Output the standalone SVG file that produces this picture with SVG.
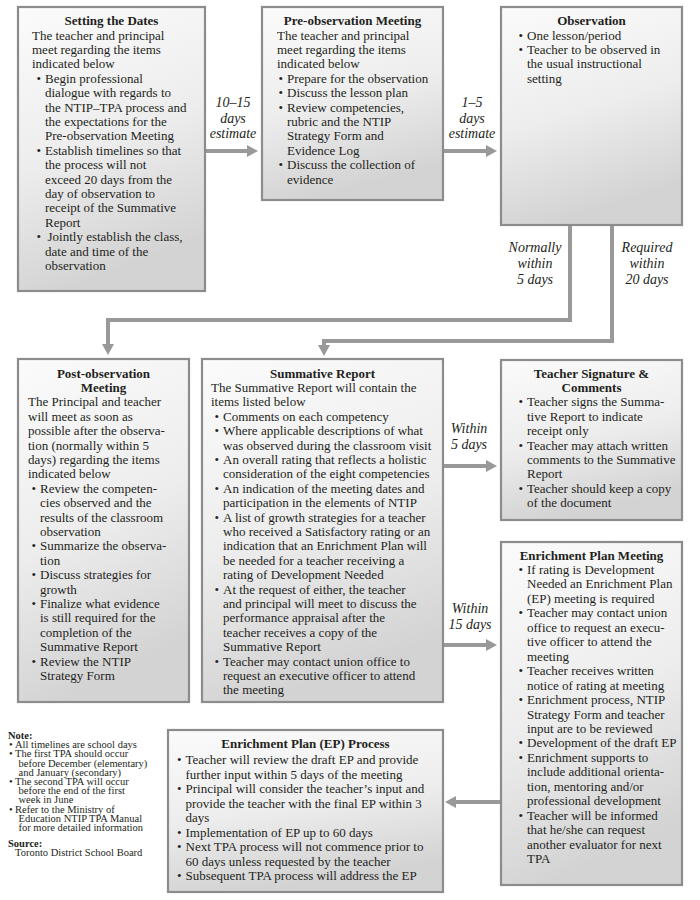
<svg xmlns="http://www.w3.org/2000/svg" width="700" height="900" viewBox="0 0 700 900">
<defs>
<linearGradient id="bg" x1="0" y1="0" x2="0.25" y2="1">
<stop offset="0" stop-color="#fbfbfb"/>
<stop offset="0.55" stop-color="#ededed"/>
<stop offset="1" stop-color="#d3d3d3"/>
</linearGradient>
<marker id="ah" viewBox="0 0 11 12" refX="0" refY="6" markerWidth="11" markerHeight="12" markerUnits="userSpaceOnUse" orient="auto">
<path d="M0,0 L11,6 L0,12 z" fill="#999"/>
</marker>
<style>
.box{fill:url(#bg);stroke:#8c8c8c;stroke-width:2.2}
.t{font-family:"Liberation Serif","Times New Roman",serif;font-size:13px;fill:#231f20}
.h{font-weight:bold;text-anchor:middle}
.i{font-family:"Liberation Serif","Times New Roman",serif;font-size:14px;font-style:italic;fill:#231f20;text-anchor:middle}
.n{font-family:"Liberation Serif","Times New Roman",serif;font-size:10.5px;fill:#231f20}
.c{fill:none;stroke:#999;stroke-width:4;stroke-linejoin:miter}
</style>
</defs>

<g id="connectors">
<path class="c" d="M205,151 H247" marker-end="url(#ah)"/>
<path class="c" d="M443,151 H486" marker-end="url(#ah)"/>
<path class="c" d="M570,225 V320 H108 V344" marker-end="url(#ah)"/>
<path class="c" d="M612,225 V341 H324 V345" marker-end="url(#ah)"/>
<path class="c" d="M443,466 H486" marker-end="url(#ah)"/>
<path class="c" d="M443,645 H486" marker-end="url(#ah)"/>
<path class="c" d="M501,802 H456" marker-end="url(#ah)"/>
<text class="i" x="233"><tspan x="233" y="106.5">10–15</tspan><tspan x="233" y="122.5">days</tspan><tspan x="233" y="138">estimate</tspan></text>
<text class="i" x="472"><tspan x="472" y="106.5">1–5</tspan><tspan x="472" y="122.5">days</tspan><tspan x="472" y="138">estimate</tspan></text>
<text class="i" x="535"><tspan x="535" y="252">Normally</tspan><tspan x="535" y="268">within</tspan><tspan x="535" y="284">5 days</tspan></text>
<text class="i" x="647"><tspan x="647" y="252">Required</tspan><tspan x="647" y="268">within</tspan><tspan x="647" y="284">20 days</tspan></text>
<text class="i" x="469"><tspan x="469" y="433">Within</tspan><tspan x="469" y="449">5 days</tspan></text>
<text class="i" x="470"><tspan x="470" y="613">Within</tspan><tspan x="470" y="629">15 days</tspan></text>
</g>

<g id="setting-dates">
<rect class="box" x="18" y="7" width="187" height="284"/>
<text class="t h" x="111.5" y="25">Setting the Dates</text>
<text class="t">
<tspan x="32" y="39.5">The teacher and principal</tspan>
<tspan x="32" y="53.9">meet regarding the items</tspan>
<tspan x="32" y="68.3">indicated below</tspan>
<tspan x="36.5" y="82.7">•</tspan><tspan x="45" y="82.7">Begin professional</tspan>
<tspan x="45" y="97.1">dialogue with regards to</tspan>
<tspan x="45" y="111.5">the NTIP–TPA process and</tspan>
<tspan x="45" y="125.9">the expectations for the</tspan>
<tspan x="45" y="140.3">Pre-observation Meeting</tspan>
<tspan x="36.5" y="154.7">•</tspan><tspan x="45" y="154.7">Establish timelines so that</tspan>
<tspan x="45" y="169.1">the process will not</tspan>
<tspan x="45" y="183.5">exceed 20 days from the</tspan>
<tspan x="45" y="197.9">day of observation to</tspan>
<tspan x="45" y="212.3">receipt of the Summative</tspan>
<tspan x="45" y="226.7">Report</tspan>
<tspan x="36.5" y="241.1">•</tspan><tspan x="47.5" y="241.1">Jointly establish the class,</tspan>
<tspan x="45" y="255.5">date and time of the</tspan>
<tspan x="45" y="269.9">observation</tspan>
</text>
</g>

<g id="pre-observation">
<rect class="box" x="262" y="7" width="181" height="193"/>
<text class="t h" x="352.5" y="25">Pre-observation Meeting</text>
<text class="t">
<tspan x="277" y="39.5">The teacher and principal</tspan>
<tspan x="277" y="53.9">meet regarding the items</tspan>
<tspan x="277" y="68.3">indicated below</tspan>
<tspan x="278.5" y="82.7">•</tspan><tspan x="287" y="82.7">Prepare for the observation</tspan>
<tspan x="278.5" y="97.1">•</tspan><tspan x="287" y="97.1">Discuss the lesson plan</tspan>
<tspan x="278.5" y="111.5">•</tspan><tspan x="287" y="111.5">Review competencies,</tspan>
<tspan x="287" y="125.9">rubric and the NTIP</tspan>
<tspan x="287" y="140.3">Strategy Form and</tspan>
<tspan x="287" y="154.7">Evidence Log</tspan>
<tspan x="278.5" y="169.1">•</tspan><tspan x="287" y="169.1">Discuss the collection of</tspan>
<tspan x="287" y="183.5">evidence</tspan>
</text>
</g>

<g id="observation">
<rect class="box" x="501" y="7" width="181" height="218"/>
<text class="t h" x="591.5" y="25">Observation</text>
<text class="t">
<tspan x="518.5" y="39.5">•</tspan><tspan x="527" y="39.5">One lesson/period</tspan>
<tspan x="518.5" y="53.9">•</tspan><tspan x="527" y="53.9">Teacher to be observed in</tspan>
<tspan x="527" y="68.3">the usual instructional</tspan>
<tspan x="527" y="82.7">setting</tspan>
</text>
</g>

<g id="post-observation">
<rect class="box" x="18" y="359" width="171" height="343"/>
<text class="t h"><tspan x="103.5" y="377.5">Post-observation</tspan><tspan x="103.5" y="391.9">Meeting</tspan></text>
<text class="t">
<tspan x="28" y="406.3">The Principal and teacher</tspan>
<tspan x="28" y="420.7">will meet as soon as</tspan>
<tspan x="28" y="435.1">possible after the observa-</tspan>
<tspan x="28" y="449.5">tion (normally within 5</tspan>
<tspan x="28" y="463.9">days) regarding the items</tspan>
<tspan x="28" y="478.3">indicated below</tspan>
<tspan x="31.5" y="492.7">•</tspan><tspan x="40" y="492.7">Review the competen-</tspan>
<tspan x="40" y="507.1">cies observed and the</tspan>
<tspan x="40" y="521.5">results of the classroom</tspan>
<tspan x="40" y="535.9">observation</tspan>
<tspan x="31.5" y="550.3">•</tspan><tspan x="40" y="550.3">Summarize the observa-</tspan>
<tspan x="40" y="564.7">tion</tspan>
<tspan x="31.5" y="579.1">•</tspan><tspan x="40" y="579.1">Discuss strategies for</tspan>
<tspan x="40" y="593.5">growth</tspan>
<tspan x="31.5" y="607.9">•</tspan><tspan x="40" y="607.9">Finalize what evidence</tspan>
<tspan x="40" y="622.3">is still required for the</tspan>
<tspan x="40" y="636.7">completion of the</tspan>
<tspan x="40" y="651.1">Summative Report</tspan>
<tspan x="31.5" y="665.5">•</tspan><tspan x="40" y="665.5">Review the NTIP</tspan>
<tspan x="40" y="679.9">Strategy Form</tspan>
</text>
</g>

<g id="summative-report">
<rect class="box" x="202" y="359" width="241" height="343"/>
<text class="t h" x="322.5" y="377.5">Summative Report</text>
<text class="t">
<tspan x="211" y="391.9">The Summative Report will contain the</tspan>
<tspan x="211" y="406.3">items listed below</tspan>
<tspan x="214.5" y="420.7">•</tspan><tspan x="223" y="420.7">Comments on each competency</tspan>
<tspan x="214.5" y="435.1">•</tspan><tspan x="223" y="435.1">Where applicable descriptions of what</tspan>
<tspan x="223" y="449.5">was observed during the classroom visit</tspan>
<tspan x="214.5" y="463.9">•</tspan><tspan x="223" y="463.9">An overall rating that reflects a holistic</tspan>
<tspan x="223" y="478.3">consideration of the eight competencies</tspan>
<tspan x="214.5" y="492.7">•</tspan><tspan x="223" y="492.7">An indication of the meeting dates and</tspan>
<tspan x="223" y="507.1">participation in the elements of NTIP</tspan>
<tspan x="214.5" y="521.5">•</tspan><tspan x="223" y="521.5">A list of growth strategies for a teacher</tspan>
<tspan x="223" y="535.9">who received a Satisfactory rating or an</tspan>
<tspan x="223" y="550.3">indication that an Enrichment Plan will</tspan>
<tspan x="223" y="564.7">be needed for a teacher receiving a</tspan>
<tspan x="223" y="579.1">rating of Development Needed</tspan>
<tspan x="214.5" y="593.5">•</tspan><tspan x="223" y="593.5">At the request of either, the teacher</tspan>
<tspan x="223" y="607.9">and principal will meet to discuss the</tspan>
<tspan x="223" y="622.3">performance appraisal after the</tspan>
<tspan x="223" y="636.7">teacher receives a copy of the</tspan>
<tspan x="223" y="651.1">Summative Report</tspan>
<tspan x="214.5" y="665.5">•</tspan><tspan x="223" y="665.5">Teacher may contact union office to</tspan>
<tspan x="223" y="679.9">request an executive officer to attend</tspan>
<tspan x="223" y="694.3">the meeting</tspan>
</text>
</g>

<g id="teacher-signature">
<rect class="box" x="501" y="360" width="181" height="160"/>
<text class="t h"><tspan x="591.5" y="377.5">Teacher Signature &amp;</tspan><tspan x="591.5" y="391.9">Comments</tspan></text>
<text class="t">
<tspan x="518.5" y="406.3">•</tspan><tspan x="527" y="406.3">Teacher signs the Summa-</tspan>
<tspan x="527" y="420.7">tive Report to indicate</tspan>
<tspan x="527" y="435.1">receipt only</tspan>
<tspan x="518.5" y="449.5">•</tspan><tspan x="527" y="449.5">Teacher may attach written</tspan>
<tspan x="527" y="463.9">comments to the Summative</tspan>
<tspan x="527" y="478.3">Report</tspan>
<tspan x="518.5" y="492.7">•</tspan><tspan x="527" y="492.7">Teacher should keep a copy</tspan>
<tspan x="527" y="507.1">of the document</tspan>
</text>
</g>

<g id="enrichment-plan-meeting">
<rect class="box" x="501" y="542" width="181" height="343"/>
<text class="t h" x="591.5" y="559.5">Enrichment Plan Meeting</text>
<text class="t">
<tspan x="518.5" y="574">•</tspan><tspan x="527" y="574">If rating is Development</tspan>
<tspan x="527" y="588.4">Needed an Enrichment Plan</tspan>
<tspan x="527" y="602.9">(EP) meeting is required</tspan>
<tspan x="518.5" y="617.3">•</tspan><tspan x="527" y="617.3">Teacher may contact union</tspan>
<tspan x="527" y="631.8">office to request an execu-</tspan>
<tspan x="527" y="646.2">tive officer to attend the</tspan>
<tspan x="527" y="660.7">meeting</tspan>
<tspan x="518.5" y="675.1">•</tspan><tspan x="527" y="675.1">Teacher receives written</tspan>
<tspan x="527" y="689.6">notice of rating at meeting</tspan>
<tspan x="518.5" y="704">•</tspan><tspan x="527" y="704">Enrichment process, NTIP</tspan>
<tspan x="527" y="718.5">Strategy Form and teacher</tspan>
<tspan x="527" y="732.9">input are to be reviewed</tspan>
<tspan x="518.5" y="747.4">•</tspan><tspan x="527" y="747.4">Development of the draft EP</tspan>
<tspan x="518.5" y="761.8">•</tspan><tspan x="527" y="761.8">Enrichment supports to</tspan>
<tspan x="527" y="776.3">include additional orienta-</tspan>
<tspan x="527" y="790.7">tion, mentoring and/or</tspan>
<tspan x="527" y="805.2">professional development</tspan>
<tspan x="518.5" y="819.6">•</tspan><tspan x="527" y="819.6">Teacher will be informed</tspan>
<tspan x="527" y="834.1">that he/she can request</tspan>
<tspan x="527" y="848.5">another evaluator for next</tspan>
<tspan x="527" y="863">TPA</tspan>
</text>
</g>

<g id="ep-process">
<rect class="box" x="168" y="730" width="275" height="162"/>
<text class="t h" x="305.5" y="748">Enrichment Plan (EP) Process</text>
<text class="t">
<tspan x="177" y="764">•</tspan><tspan x="185.5" y="764">Teacher will review the draft EP and provide</tspan>
<tspan x="185.5" y="778.5">further input within 5 days of the meeting</tspan>
<tspan x="177" y="793">•</tspan><tspan x="185.5" y="793">Principal will consider the teacher’s input and</tspan>
<tspan x="185.5" y="807.5">provide the teacher with the final EP within 3</tspan>
<tspan x="185.5" y="822">days</tspan>
<tspan x="177" y="836.5">•</tspan><tspan x="185.5" y="836.5">Implementation of EP up to 60 days</tspan>
<tspan x="177" y="851">•</tspan><tspan x="185.5" y="851">Next TPA process will not commence prior to</tspan>
<tspan x="185.5" y="865.5">60 days unless requested by the teacher</tspan>
<tspan x="177" y="880">•</tspan><tspan x="185.5" y="880">Subsequent TPA process will address the EP</tspan>
</text>
</g>

<g id="note">
<text class="n">
<tspan x="8" y="739" font-weight="bold">Note:</tspan>
<tspan x="9" y="748.2">•</tspan><tspan x="15" y="748.2">All timelines are school days</tspan>
<tspan x="9" y="757.4">•</tspan><tspan x="15" y="757.4">The first TPA should occur</tspan>
<tspan x="18.5" y="766.6">before December (elementary)</tspan>
<tspan x="18.5" y="775.8">and January (secondary)</tspan>
<tspan x="9" y="785">•</tspan><tspan x="15" y="785">The second TPA will occur</tspan>
<tspan x="18.5" y="794.2">before the end of the first</tspan>
<tspan x="18.5" y="803.4">week in June</tspan>
<tspan x="9" y="812.6">•</tspan><tspan x="15" y="812.6">Refer to the Ministry of</tspan>
<tspan x="18.5" y="821.8">Education NTIP TPA Manual</tspan>
<tspan x="18.5" y="831">for more detailed information</tspan>
<tspan x="8" y="846.5" font-weight="bold">Source:</tspan>
<tspan x="15" y="856">Toronto District School Board</tspan>
</text>
</g>
</svg>
